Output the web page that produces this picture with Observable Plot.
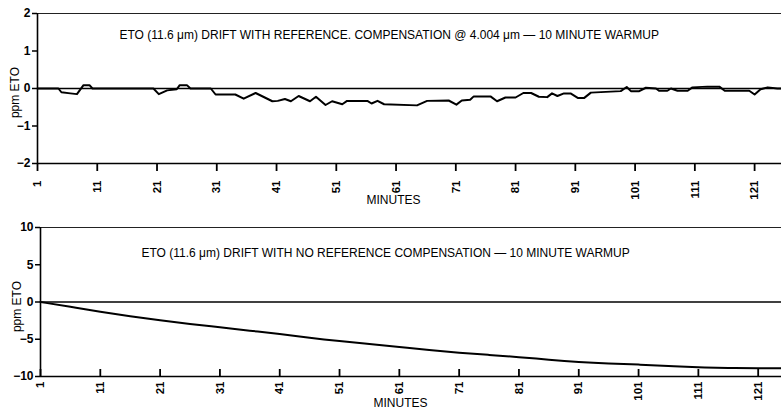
<!DOCTYPE html>
<html><head><meta charset="utf-8">
<script src="https://cdn.jsdelivr.net/npm/d3@7"></script>
<script src="https://cdn.jsdelivr.net/npm/@observablehq/plot@0.6"></script>
<style>
html,body{margin:0;padding:0;background:#fff;}
#chart svg{display:block;}
</style></head><body><div id="chart"></div>
<script>
const minuteTicks = [1, 11, 21, 31, 41, 51, 61, 71, 81, 91, 101, 111, 121];
const topTicksY = [-2, -1, 0, 1, 2];
const bottomTicksY = [-10, -5, 0, 5, 10];

const refMinutes = [1, 4.5, 5, 6.5, 7.6, 8.7, 9.7, 10.2, 20.4, 21.3, 22.7, 24.3, 24.8, 26, 26.6, 30, 30.8, 34.1, 35.5, 37.5, 40.3, 41.2, 42.4, 43.4, 44.7, 46.6, 47.6, 49.2, 50.3, 52, 52.8, 56.2, 56.9, 57.9, 59, 64.5, 66.2, 69.8, 71.1, 72, 73.4, 74, 76.8, 77.9, 79.3, 81, 82.3, 83.6, 84.9, 86.3, 87.1, 88, 89.1, 90.2, 91.4, 92.5, 93.6, 98.6, 99.6, 100.3, 101.7, 102.8, 104.5, 105, 106.4, 107, 108.1, 109.8, 110.6, 113.1, 115.1, 116, 120.1, 121, 122, 123.2, 124.8, 125.5];
const refValues = [0, 0, -0.1, -0.13, -0.15, 0.09, 0.09, 0, 0, -0.15, -0.05, -0.02, 0.09, 0.09, 0, 0, -0.16, -0.16, -0.27, -0.12, -0.34, -0.33, -0.28, -0.34, -0.2, -0.34, -0.22, -0.44, -0.34, -0.42, -0.33, -0.33, -0.4, -0.33, -0.42, -0.45, -0.33, -0.32, -0.43, -0.32, -0.3, -0.21, -0.21, -0.34, -0.24, -0.24, -0.12, -0.12, -0.22, -0.23, -0.13, -0.2, -0.13, -0.13, -0.25, -0.25, -0.11, -0.07, 0.04, -0.07, -0.07, 0.02, 0, -0.06, -0.06, 0, -0.06, -0.06, 0.03, 0.05, 0.05, -0.06, -0.06, -0.16, -0.02, 0.03, 0, 0];

const noRefMinutes = [1, 6, 11, 16, 21, 26, 31, 36, 41, 46, 51, 56, 61, 66, 71, 76, 81, 86, 91, 96, 101, 106, 111, 116, 121, 125];
const noRefValues = [0, -0.65, -1.3, -1.9, -2.45, -2.95, -3.4, -3.85, -4.3, -4.8, -5.25, -5.65, -6.05, -6.45, -6.8, -7.1, -7.4, -7.75, -8.05, -8.25, -8.4, -8.6, -8.75, -8.85, -8.9, -8.9];

const topTitle = "ETO (11.6 \u03BCm) DRIFT WITH REFERENCE. COMPENSATION @ 4.004 \u03BCm \u2014 10 MINUTE WARMUP";
const bottomTitle = "ETO (11.6 \u03BCm) DRIFT WITH NO REFERENCE COMPENSATION \u2014 10 MINUTE WARMUP";
const yLabel = "ppm ETO";
const xLabel = "MINUTES";

const refData = refMinutes.map((m, i) => ({minute: m, ppm: refValues[i]}));
const noRefData = noRefMinutes.map((m, i) => ({minute: m, ppm: noRefValues[i]}));

const font = "'Liberation Sans', Arial, Helvetica, sans-serif";
const style = {fontFamily: font, fontSize: "12px", color: "#000", background: "#fff", overflow: "visible"};

const topChart = Plot.plot({
  width: 781, height: 210,
  marginLeft: 37, marginRight: 0, marginTop: 13, marginBottom: 47,
  style,
  x: {domain: [1, 125.5]},
  y: {domain: [-2, 2]},
  marks: [
    Plot.ruleY([0], {stroke: "#000", strokeWidth: 1.6}),
    Plot.line(refData, {x: "minute", y: "ppm", stroke: "#000", strokeWidth: 2}),
    Plot.ruleY([-2], {stroke: "#000", strokeWidth: 1.6}),
    Plot.ruleY([2], {stroke: "#222", strokeWidth: 1.2}),
    Plot.ruleX([1], {stroke: "#000", strokeWidth: 1.6}),
    Plot.axisY(topTicksY, {tickSize: 5, tickPadding: 2, strokeWidth: 1.5, label: null, fontSize: 12, fontWeight: "bold"}),
    Plot.axisX(minuteTicks, {tickSize: 8, tickPadding: 9, tickRotate: -90, strokeWidth: 1.8, label: null, fontSize: 11.5, fontWeight: "bold"}),
    Plot.text([topTitle], {frameAnchor: "top-left", dx: 82, dy: 17, textAnchor: "start", fontSize: 12}),
    Plot.text([yLabel], {frameAnchor: "left", textAnchor: "middle", rotate: -90, dx: -22, dy: 4, fontSize: 12}),
    Plot.text([xLabel], {frameAnchor: "bottom", textAnchor: "middle", dx: -16, dy: 40, fontSize: 12})
  ]
});

const bottomChart = Plot.plot({
  width: 781, height: 200,
  marginLeft: 40, marginRight: 0, marginTop: 17, marginBottom: 34,
  style,
  x: {domain: [1, 124.9]},
  y: {domain: [-10, 10]},
  marks: [
    Plot.ruleY([0], {stroke: "#000", strokeWidth: 1.6}),
    Plot.line(noRefData, {x: "minute", y: "ppm", stroke: "#000", strokeWidth: 2, curve: "natural"}),
    Plot.ruleY([-10], {stroke: "#000", strokeWidth: 1.6}),
    Plot.ruleY([10], {stroke: "#222", strokeWidth: 1.2}),
    Plot.ruleX([1], {stroke: "#000", strokeWidth: 1.6}),
    Plot.tickX(minuteTicks, {x: d => d, insetTop: 142, stroke: "#000", strokeWidth: 1.8}),
    Plot.axisY(bottomTicksY, {tickSize: 5, tickPadding: 2, strokeWidth: 1.5, label: null, fontSize: 12, fontWeight: "bold"}),
    Plot.axisX(minuteTicks, {tickSize: 0, tickPadding: 5, tickRotate: -90, label: null, fontSize: 11.5, fontWeight: "bold"}),
    Plot.text([bottomTitle], {frameAnchor: "top-left", dx: 101, dy: 21, textAnchor: "start", fontSize: 12}),
    Plot.text([yLabel], {frameAnchor: "left", textAnchor: "middle", rotate: -90, dx: -23, dy: 4.5, fontSize: 12}),
    Plot.text([xLabel], {frameAnchor: "bottom", textAnchor: "middle", dx: -10.5, dy: 30, fontSize: 12})
  ]
});

const root = document.getElementById("chart");
root.append(topChart, bottomChart);
</script>
</body></html>
